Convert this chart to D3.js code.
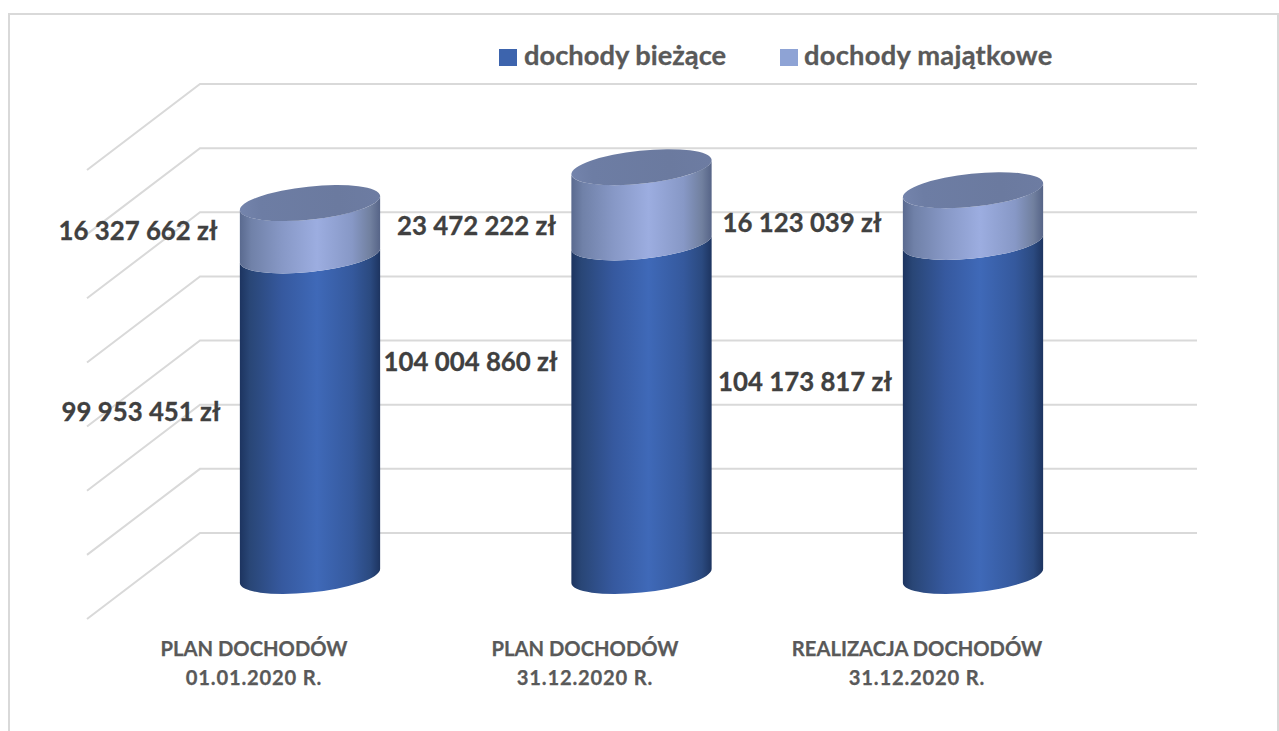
<!DOCTYPE html>
<html><head><meta charset="utf-8">
<script src="https://cdn.jsdelivr.net/npm/d3@7"></script>
<style>html,body{margin:0;padding:0;background:#fff;overflow:hidden}svg{display:block}text{font-family:Lato,"Open Sans",sans-serif;font-weight:700}</style>
</head><body>
<svg id="c" width="1279" height="731"></svg>
<script>
const categoryLine1 = ["PLAN DOCHODÓW","PLAN DOCHODÓW","REALIZACJA DOCHODÓW"];
const categoryLine2 = ["01.01.2020 R.","31.12.2020 R.","31.12.2020 R."];
const seriesNames = ["dochody bieżące","dochody majątkowe"];
const currentIncome = [99953451,104004860,104173817];
const capitalIncome = [16327662,23472222,16123039];
const gridTicks = [0,20e6,40e6,60e6,80e6,100e6,120e6,140e6];

// layout
const lowerLabelDx=[-169,-171,-168], lowerLabelDy=[-3,-47,-26];
const upperLabelDx=[-172,-165,-171], upperLabelDy=[2,22,7];
const wallLeft=200, wallRight=1197, sideDx=-113, sideDy=86, baseShift=43;
const rx=70.5, ry=16.5, tilt=6*Math.PI/180;

const fmt = v => d3.format(",")(v).replace(/,/g," ")+" zł";
const svg=d3.select("#c");
const y=d3.scaleLinear().domain([0,140e6]).range([533,84]);
const x=d3.scalePoint().domain(categoryLine1.map((_,i)=>i)).range([310,973]).align(.5);
const yc=v=>y(v)+baseShift;

svg.append("rect").attr("x",9).attr("y",14).attr("width",1269).attr("height",740)
  .attr("fill","#fff").attr("stroke","#d9d9d9").attr("stroke-width",2);

const defs=svg.append("defs");
function grad(id,stops){
  const g=defs.append("linearGradient").attr("id",id).attr("x1",0).attr("x2",1).attr("y1",0).attr("y2",0);
  stops.forEach(s=>g.append("stop").attr("offset",s[0]).attr("stop-color",s[1]));
}
grad("gDark",[[0,"#1d3460"],[.07,"#294676"],[.3,"#36599f"],[.55,"#3f69b8"],[.8,"#35599d"],[.93,"#2b4a80"],[1,"#1d3460"]]);
grad("gLight",[[0,"#5a6a8f"],[.08,"#7081a8"],[.3,"#8798c6"],[.55,"#9cade0"],[.8,"#8798c6"],[.93,"#71809f"],[1,"#566487"]]);
grad("gTop",[[0,"#7484ac"],[.15,"#6d7da4"],[.7,"#6b7a9f"],[1,"#6d7ca2"]]);

const grid=svg.append("g").attr("fill","none").attr("stroke","#d9d9d9").attr("stroke-width",2);
grid.selectAll("path").data(gridTicks).join("path")
  .attr("d",t=>d3.line()([[wallLeft+sideDx,y(t)+sideDy],[wallLeft,y(t)],[wallRight,y(t)]]));

// rotated-ellipse tangent geometry
const xExt=Math.sqrt(rx*rx*Math.cos(tilt)**2+ry*ry*Math.sin(tilt)**2);
const tanDy=(rx*rx-ry*ry)*Math.sin(tilt)*Math.cos(tilt)/xExt;
const deg=-tilt*180/Math.PI;
function side(cx,y0,y1){
  return `M${cx-xExt},${y0+tanDy}A${rx},${ry} ${deg} 0 0 ${cx+xExt},${y0-tanDy}`+
         `L${cx+xExt},${y1-tanDy}A${rx},${ry} ${deg} 0 1 ${cx-xExt},${y1+tanDy}Z`;
}
const bars=svg.append("g").selectAll("g").data(currentIncome.map((v,i)=>({i,a:v,b:capitalIncome[i]}))).join("g");
bars.append("path").attr("fill","url(#gDark)").attr("d",d=>side(x(d.i),yc(0),yc(d.a)));
bars.append("path").attr("fill","url(#gLight)").attr("d",d=>side(x(d.i),yc(d.a),yc(d.a+d.b)));
bars.append("ellipse").attr("fill","url(#gTop)").attr("rx",rx).attr("ry",ry)
  .attr("transform",d=>`translate(${x(d.i)},${yc(d.a+d.b)}) rotate(${deg})`);

const labels=svg.append("g").attr("fill","#404040").attr("stroke","#404040").attr("stroke-width",.3).attr("font-size",25.8).attr("text-anchor","middle");
currentIncome.forEach((v,i)=>{
  labels.append("text").attr("x",x(i)+lowerLabelDx[i]).attr("y",(yc(0)+yc(v))/2+lowerLabelDy[i]).attr("dy",".33em").text(fmt(v));
  const w=capitalIncome[i];
  labels.append("text").attr("x",x(i)+upperLabelDx[i]).attr("y",(yc(v)+yc(v+w))/2+upperLabelDy[i]).attr("dy",".33em").text(fmt(w));
});

const cats=svg.append("g").attr("fill","#595959").attr("stroke","#595959").attr("stroke-width",.25).attr("font-size",20.2).attr("text-anchor","middle");
const catX=[254,585,917];
categoryLine1.forEach((t,i)=>{
  cats.append("text").attr("x",catX[i]).attr("y",656).text(t);
  cats.append("text").attr("x",catX[i]).attr("y",685).attr("letter-spacing",.8).text(categoryLine2[i]);
});

const leg=svg.append("g").attr("font-size",27.3);
const legSwatch=[499,780], legText=[524,804], legCol=["#3d64ad","#8ea3d5"], legSpacing=[0,.25];
seriesNames.forEach((n,i)=>{
  leg.append("rect").attr("x",legSwatch[i]).attr("y",49).attr("width",18).attr("height",17).attr("fill",legCol[i]);
  leg.append("text").attr("x",legText[i]).attr("y",65).attr("letter-spacing",legSpacing[i]).attr("fill","#595959").attr("stroke","#595959").attr("stroke-width",.3).text(n);
});
</script>
</body></html>
